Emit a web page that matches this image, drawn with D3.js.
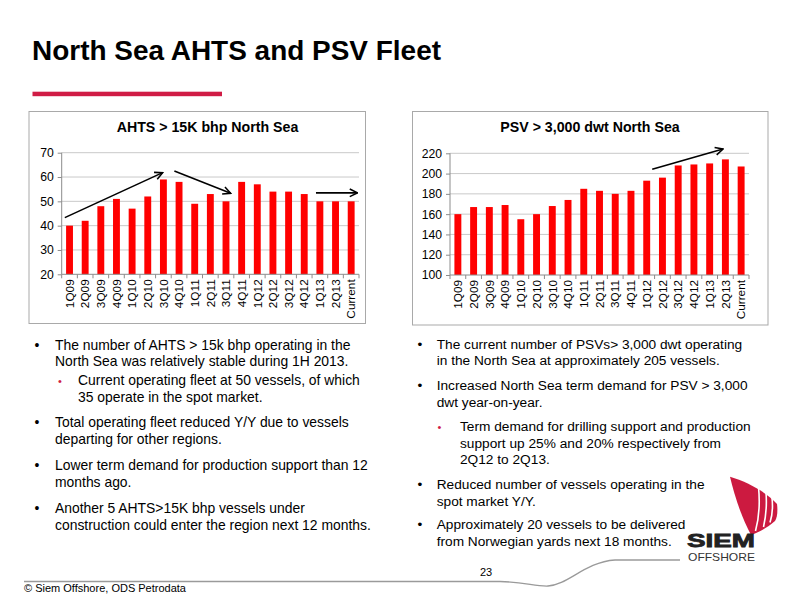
<!DOCTYPE html>
<html>
<head>
<meta charset="utf-8">
<script src="https://cdn.jsdelivr.net/npm/d3@7/dist/d3.min.js"></script>
<style>
  html, body { margin: 0; padding: 0; background: #ffffff; }
  svg { display: block; font-family: "Liberation Sans", Arial, Helvetica, sans-serif; }
</style>
</head>
<body>
<script>
// ---------------- DATA ----------------
const categories = ["1Q09","2Q09","3Q09","4Q09","1Q10","2Q10","3Q10","4Q10","1Q11","2Q11","3Q11","4Q11","1Q12","2Q12","3Q12","4Q12","1Q13","2Q13","Current"];
const ahtsValues = [40, 42, 48, 51, 47, 52, 59, 58, 49, 53, 50, 58, 57, 54, 54, 53, 50, 50, 50];
const psvValues  = [160, 167, 167, 169, 155, 160, 168, 174, 185, 183, 180, 183, 193, 196, 208, 209, 210, 214, 207];
const ahtsTicks = [20, 30, 40, 50, 60, 70];
const psvTicks  = [100, 120, 140, 160, 180, 200, 220];
// trend arrows in data units: category index (fractional) and value
const ahtsArrows = [
  {i0: -0.3, v0: 43.3, i1: 5.95, v1: 61.8},
  {i0: 6.7,  v0: 62.5, i1: 10.3, v1: 53.3},
  {i0: 15.75, v0: 53.5, i1: 18.4, v1: 53.5}
];
const psvArrows = [
  {i0: 12.35, v0: 204.2, i1: 16.85, v1: 224.2}
];
const ahtsTitle = "AHTS > 15K bhp North Sea";
const psvTitle = "PSV > 3,000 dwt North Sea";
const pageTitle = "North Sea AHTS and PSV Fleet";

const leftBullets = [
  {level: 1, lines: ["The number of AHTS > 15k bhp operating in the", "North Sea was relatively stable during 1H 2013."]},
  {level: 2, lines: ["Current operating fleet at 50 vessels, of which", "35 operate in the spot market."]},
  {level: 1, lines: ["Total operating fleet reduced Y/Y due to vessels", "departing for other regions."]},
  {level: 1, lines: ["Lower term demand for production support than 12", "months ago."]},
  {level: 1, lines: ["Another 5 AHTS>15K bhp vessels under", "construction could enter the region next 12 months."]}
];
const rightBullets = [
  {level: 1, lines: ["The current number of PSVs> 3,000 dwt operating", "in the North Sea at approximately 205 vessels."]},
  {level: 1, lines: ["Increased North Sea term demand for PSV > 3,000", "dwt year-on-year."]},
  {level: 2, lines: ["Term demand for drilling support and production", "support up 25% and 20% respectively from", "2Q12 to 2Q13."]},
  {level: 1, lines: ["Reduced number of vessels operating in the", "spot market Y/Y."]},
  {level: 1, lines: ["Approximately 20 vessels to be delivered", "from Norwegian yards next 18 months."]}
];
const sourceText = "© Siem Offshore, ODS Petrodata";
const pageNumber = "23";

// ---------------- DRAWING ----------------
const svg = d3.select("body").append("svg").attr("width", 800).attr("height", 600);

const defs = svg.append("defs");
defs.append("marker")
  .attr("id", "arrowhead")
  .attr("viewBox", "0 0 10 10")
  .attr("refX", 9).attr("refY", 5)
  .attr("markerWidth", 6).attr("markerHeight", 6)
  .attr("markerUnits", "strokeWidth")
  .attr("orient", "auto")
  .append("path")
  .attr("d", "M1,1 L9,5 L1,9")
  .attr("fill", "none").attr("stroke", "#000").attr("stroke-width", 1.6);

// Page title
svg.append("text")
  .attr("x", 32).attr("y", 59.5)
  .attr("font-size", 27).attr("font-weight", "bold")
  .attr("fill", "#000")
  .attr("textLength", 409).attr("lengthAdjust", "spacingAndGlyphs")
  .text(pageTitle);
svg.append("rect").attr("x", 32.5).attr("y", 91.7).attr("width", 189.5).attr("height", 4.5).attr("fill", "#d01c45");

function drawChart(cfg) {
  const g = svg.append("g");
  // frame
  g.append("rect")
    .attr("x", cfg.box.x).attr("y", cfg.box.y)
    .attr("width", cfg.box.w).attr("height", cfg.box.h)
    .attr("fill", "#fff").attr("stroke", "#a9a9a9").attr("stroke-width", 1);
  // title
  g.append("text")
    .attr("x", cfg.titleX).attr("y", cfg.titleY)
    .attr("text-anchor", "middle")
    .attr("font-size", 14.2).attr("font-weight", "bold").attr("fill", "#000")
    .text(cfg.title);

  const x = d3.scaleBand().domain(categories).range([cfg.x0, cfg.x1]).paddingInner(0.56).paddingOuter(0.28);
  const y = d3.scaleLinear().domain(cfg.domain).range([cfg.yBottom, cfg.yTop]);
  const xi = d3.scaleLinear().domain([0, categories.length - 1])
    .range([x(categories[0]) + x.bandwidth() / 2, x(categories[categories.length - 1]) + x.bandwidth() / 2]);

  // gridlines
  g.append("g").selectAll("line").data(cfg.ticks.slice(1)).join("line")
    .attr("x1", cfg.x0).attr("x2", cfg.x1)
    .attr("y1", d => y(d)).attr("y2", d => y(d))
    .attr("stroke", "#c9c9c9").attr("stroke-width", 1);

  // y axis
  const yAxis = d3.axisLeft(y).tickValues(cfg.ticks).tickSize(4).tickPadding(4).tickFormat(d3.format("d"));
  const ya = g.append("g").attr("transform", `translate(${cfg.x0},0)`).call(yAxis);
  ya.select(".domain").attr("stroke", "#8c8c8c").attr("d", `M0,${cfg.yBottom}V${cfg.yTop}`);
  ya.selectAll(".tick line").attr("stroke", "#8c8c8c");
  ya.selectAll(".tick text").attr("font-size", 12.2).attr("fill", "#000")
    .attr("font-family", "Liberation Sans, Arial, sans-serif");

  // bars
  g.append("g").selectAll("rect").data(cfg.values).join("rect")
    .attr("x", (d, i) => x(categories[i]))
    .attr("width", x.bandwidth())
    .attr("y", d => y(d))
    .attr("height", d => y(cfg.domain[0]) - y(d))
    .attr("fill", "#ff0000");

  // x axis
  const xa = g.append("g").attr("transform", `translate(0,${cfg.yBottom})`);
  xa.append("line").attr("x1", cfg.x0).attr("x2", cfg.x1).attr("y1", 0).attr("y2", 0).attr("stroke", "#8c8c8c");
  const boundaries = d3.range(categories.length + 1).map(k => cfg.x0 + k * (cfg.x1 - cfg.x0) / categories.length);
  xa.selectAll("line.tk").data(boundaries).join("line").attr("class", "tk")
    .attr("x1", d => d).attr("x2", d => d).attr("y1", 0).attr("y2", 4)
    .attr("stroke", "#8c8c8c");
  xa.selectAll("text").data(categories).join("text")
    .attr("transform", d => `translate(${x(d) + x.bandwidth() / 2},5) rotate(-90)`)
    .attr("dy", "0.36em")
    .attr("text-anchor", "end")
    .attr("font-size", 11.8).attr("fill", "#000")
    .text(d => d);

  // arrows
  g.append("g").selectAll("line").data(cfg.arrows).join("line")
    .attr("x1", d => xi(d.i0)).attr("y1", d => y(d.v0))
    .attr("x2", d => xi(d.i1)).attr("y2", d => y(d.v1))
    .attr("stroke", "#000").attr("stroke-width", 1.6)
    .attr("marker-end", "url(#arrowhead)");
}

drawChart({
  box: {x: 29, y: 111.5, w: 336.5, h: 212}, title: ahtsTitle, titleX: 207.5, titleY: 131.5,
  x0: 61.7, x1: 359, yTop: 152.7, yBottom: 274.3, domain: [20, 70], ticks: ahtsTicks,
  values: ahtsValues, arrows: ahtsArrows
});
drawChart({
  box: {x: 412.5, y: 111.5, w: 355.5, h: 213.5}, title: psvTitle, titleX: 590, titleY: 131.5,
  x0: 450, x1: 749, yTop: 153.3, yBottom: 275, domain: [100, 220], ticks: psvTicks,
  values: psvValues, arrows: psvArrows
});

// bullet text
function drawBullets(items, opt) {
  const g = svg.append("g").attr("font-size", opt.fs).attr("fill", "#000");
  let yPos = opt.startY;
  items.forEach((it, k) => {
    if (k > 0) yPos += opt.gaps[k];
    const bx = it.level === 1 ? opt.bx1 : opt.bx2;
    const tx = it.level === 1 ? opt.tx1 : opt.tx2;
    g.append("text")
      .attr("x", bx).attr("y", yPos)
      .attr("text-anchor", "middle")
      .attr("fill", it.level === 1 ? "#000" : "#d01c45")
      .attr("font-size", it.level === 1 ? opt.fs : 11)
      .text("•");
    it.lines.forEach((ln, j) => {
      g.append("text").attr("x", tx).attr("y", yPos).text(ln);
      if (j < it.lines.length - 1) yPos += opt.lineH;
    });
    yPos += opt.lineH;
  });
}
drawBullets(leftBullets, {fs: 13.9, startY: 349.5, lineH: 16.7, gaps: [0, 2, 9, 9.6, 9.6], bx1: 37, bx2: 60, tx1: 55, tx2: 78});
drawBullets(rightBullets, {fs: 13.7, startY: 348.5, lineH: 16.7, gaps: [0, 8.3, 7.3, 8.3, 6.6], bx1: 420, bx2: 439.5, tx1: 436.7, tx2: 460});

// footer
svg.append("path")
  .attr("d", "M24,581.5 L500,581.5 C525,582 535,586.5 548,586 C568,585 585,562 615,560 L680,560")
  .attr("fill", "none").attr("stroke", "#9a9a9a").attr("stroke-width", 1.3);
svg.append("text").attr("x", 24).attr("y", 592).attr("font-size", 11).attr("fill", "#000").text(sourceText);
svg.append("text").attr("x", 486).attr("y", 576).attr("text-anchor", "middle").attr("font-size", 11).attr("fill", "#000").text(pageNumber);

// logo
const logo = svg.append("g");
logo.append("path")
  .attr("d", "M730,476.7 C748,482 766,492 777,504 C778,512 777,518 775,521 C768,527 760,532 751,535 C742,518 735,498 730,476.7 Z")
  .attr("fill", "#cc1a40");
[["M758.5,487 C760,502 759,518 755.5,531"], ["M766,492.5 C767,505 766,516 763.5,527"], ["M772,498 C773,507 772.5,515 770,522.5"]]
  .forEach(p => logo.append("path").attr("d", p[0]).attr("fill", "none").attr("stroke", "#fff").attr("stroke-width", 1.6));
logo.append("text").attr("x", 687).attr("y", 546.5)
  .attr("font-weight", "bold").attr("font-size", 18.5)
  .attr("textLength", 68).attr("lengthAdjust", "spacingAndGlyphs").attr("fill", "#222")
  .attr("stroke", "#222").attr("stroke-width", 0.8)
  .text("SIEM");
logo.append("text").attr("x", 688).attr("y", 560.5)
  .attr("font-size", 11.5).attr("fill", "#333")
  .attr("textLength", 67).attr("lengthAdjust", "spacingAndGlyphs")
  .text("OFFSHORE");
</script>
</body>
</html>
